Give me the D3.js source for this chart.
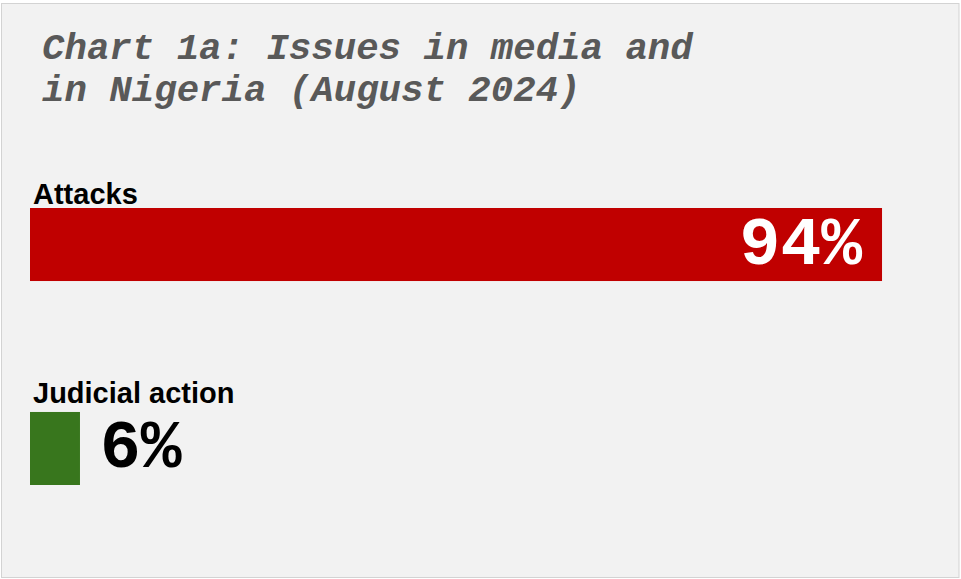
<!DOCTYPE html>
<html><head><meta charset="utf-8">
<script src="https://cdn.jsdelivr.net/npm/d3@7"></script>
<style>body{margin:0;background:#fff}svg{display:block}</style>
</head><body>
<script>
const titleLines = ["Chart 1a: Issues in media and", "in Nigeria (August 2024)"];
const categories = ["Attacks", "Judicial action"];
const values = [94.46, 5.54];
const valueLabels = ["94%", "6%"];
const colors = ["#c00000", "#38761d"];

const W = 961, H = 579;
const svg = d3.select("body").append("svg").attr("width", W).attr("height", H);
svg.append("rect").attr("x", 1.5).attr("y", 3.5).attr("width", 957.5).attr("height", 574)
  .attr("fill", "#f2f2f2").attr("stroke", "#d3d3d3").attr("stroke-width", 1);

svg.append("g").selectAll("text").data(titleLines).join("text")
  .attr("x", 42).attr("y", (d, i) => 59 + i * 42)
  .attr("font-family", "'Liberation Mono', 'Courier New', monospace")
  .attr("font-weight", "bold").attr("font-style", "italic")
  .attr("font-size", 37.4).attr("fill", "#595959").text(d => d);

const x = d3.scaleLinear().domain([0, 100]).range([30, 932]);
const y = d3.scaleBand().domain(categories).range([208, 485]).paddingInner(0.642).paddingOuter(0);

const data = categories.map((c, i) => ({c, v: values[i], label: valueLabels[i], color: colors[i]}));
const g = svg.append("g");
g.selectAll("rect.bar").data(data).join("rect").attr("class", "bar")
  .attr("x", x(0)).attr("y", d => y(d.c)).attr("height", y.bandwidth())
  .attr("width", d => x(d.v) - x(0)).attr("fill", d => d.color);

g.selectAll("text.cat").data(data).join("text").attr("class", "cat")
  .attr("x", 33).attr("y", (d, i) => y(d.c) - (i === 0 ? 4 : 9))
  .attr("font-family", "'Liberation Sans', Arial, sans-serif").attr("font-weight", "bold")
  .attr("font-size", 29).attr("fill", "#000").text(d => d.c);

g.selectAll("text.val").data(data).join("text").attr("class", "val")
  .attr("x", d => d.v > 50 ? x(d.v) - 20 : x(d.v) + 20)
  .attr("y", d => y(d.c) + y.bandwidth() / 2 + 19)
  .attr("text-anchor", d => d.v > 50 ? "end" : "start")
  .attr("font-family", "'Liberation Mono', 'Courier New', monospace").attr("font-weight", "bold")
  .attr("font-size", 68).attr("fill", d => d.v > 50 ? "#fff" : "#000").text(d => d.label);
</script>
</body></html>
